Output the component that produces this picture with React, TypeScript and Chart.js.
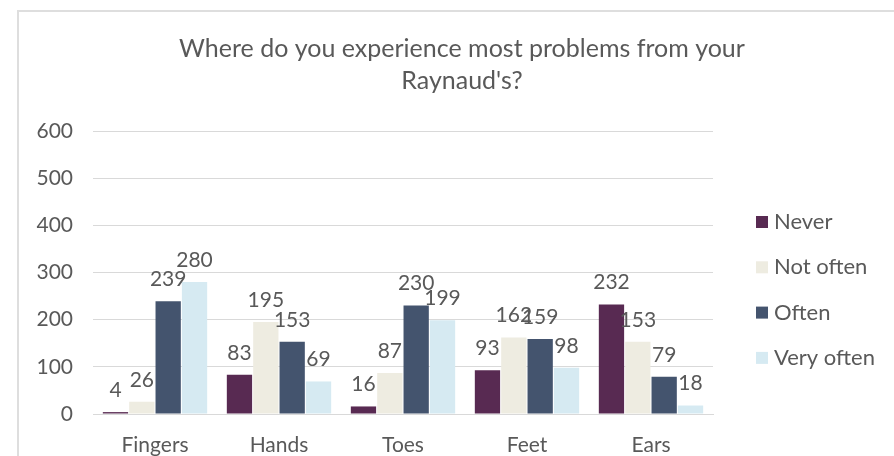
import React, { useEffect, useRef } from "react";
import { Chart, registerables } from "chart.js";

Chart.register(...registerables);

const categories = ["Fingers", "Hands", "Toes", "Feet", "Ears"];
const seriesNames = ["Never", "Not often", "Often", "Very often"];
const never = [4, 83, 16, 93, 232];
const notOften = [26, 195, 87, 162, 153];
const often = [239, 153, 230, 159, 79];
const veryOften = [280, 69, 199, 98, 18];
const seriesColors = ["#582A52", "#EEECE1", "#44546E", "#D6EAF2"];
const titleLines = ["Where do you experience most problems from your", "Raynaud's?"];
const yTicks = [0, 100, 200, 300, 400, 500, 600];

const TEXT = "#595959";
const FONT = "Lato";

const chartTitle = {
  id: "chartTitle",
  afterDraw(chart: any) {
    const ctx = chart.ctx;
    ctx.save();
    ctx.fillStyle = TEXT;
    ctx.font = `25px ${FONT}`;
    ctx.textAlign = "center";
    ctx.textBaseline = "middle";
    titleLines.forEach((line, i) => {
      ctx.fillText(line, chart.width / 2, 37 + i * 32);
    });
    ctx.restore();
  },
};

const valueLabels = {
  id: "valueLabels",
  afterDatasetsDraw(chart: any) {
    const ctx = chart.ctx;
    ctx.save();
    ctx.fillStyle = TEXT;
    ctx.font = `21px ${FONT}`;
    ctx.textAlign = "center";
    ctx.textBaseline = "middle";
    chart.data.datasets.forEach((ds: any, i: number) => {
      const meta = chart.getDatasetMeta(i);
      meta.data.forEach((el: any, j: number) => {
        ctx.fillText(String(ds.data[j]), el.x, el.y - 22);
      });
    });
    ctx.restore();
  },
};

const sideLegend = {
  id: "sideLegend",
  afterDraw(chart: any) {
    const ctx = chart.ctx;
    const area = chart.chartArea;
    ctx.save();
    ctx.font = `22px ${FONT}`;
    ctx.textBaseline = "middle";
    ctx.textAlign = "left";
    chart.data.datasets.forEach((ds: any, i: number) => {
      const y = 210 + i * 45.3;
      const x = area.right + 43;
      ctx.fillStyle = ds.backgroundColor;
      ctx.fillRect(x, y - 6, 12, 12);
      ctx.fillStyle = TEXT;
      ctx.fillText(ds.label, x + 18, y);
    });
    ctx.restore();
  },
};

function BarChart() {
  const ref = useRef<HTMLCanvasElement | null>(null);
  useEffect(() => {
    if (!ref.current) return;
    const seriesValues = [never, notOften, often, veryOften];
    const chart = new Chart(ref.current, {
      type: "bar",
      data: {
        labels: categories,
        datasets: seriesNames.map((name, i) => ({
          label: name,
          data: seriesValues[i],
          backgroundColor: seriesColors[i],
          borderWidth: 0,
          categoryPercentage: 0.85,
          barPercentage: 0.96,
        })),
      },
      options: {
        responsive: false,
        animation: false,
        layout: { padding: { left: 0, right: 192, top: 119, bottom: 0 } },
        plugins: {
          legend: { display: false },
          tooltip: { enabled: false },
          title: { display: false },
        },
        scales: {
          x: {
            grid: { display: false, drawTicks: false },
            border: { color: "#D9D9D9", width: 1 },
            ticks: { color: TEXT, font: { family: FONT, size: 21 }, padding: 19 },
            afterFit: (s: any) => {
              s.height = 58;
            },
          },
          y: {
            min: 0,
            max: 600,
            afterBuildTicks: (s: any) => {
              s.ticks = yTicks.map((v) => ({ value: v }));
            },
            grid: { color: "#D9D9D9", drawTicks: false },
            border: { display: false },
            ticks: { color: TEXT, font: { family: FONT, size: 21 }, padding: 20 },
            afterFit: (s: any) => {
              s.width = 74;
            },
          },
        },
      },
      plugins: [valueLabels, sideLegend, chartTitle],
    });
    return () => chart.destroy();
  }, []);
  return <canvas ref={ref} width={886} height={460} style={{ display: "block" }} />;
}

export default function App() {
  return (
    <div style={{ position: "fixed", left: 0, top: 0, width: 894, height: 456, overflow: "hidden", background: "#fff" }}>
      <div
        style={{
          position: "absolute",
          left: 17,
          top: 10,
          width: 890,
          height: 464,
          border: "2px solid #DEDEDE",
          boxSizing: "border-box",
          background: "#fff",
        }}
      >
        <BarChart />
      </div>
    </div>
  );
}
